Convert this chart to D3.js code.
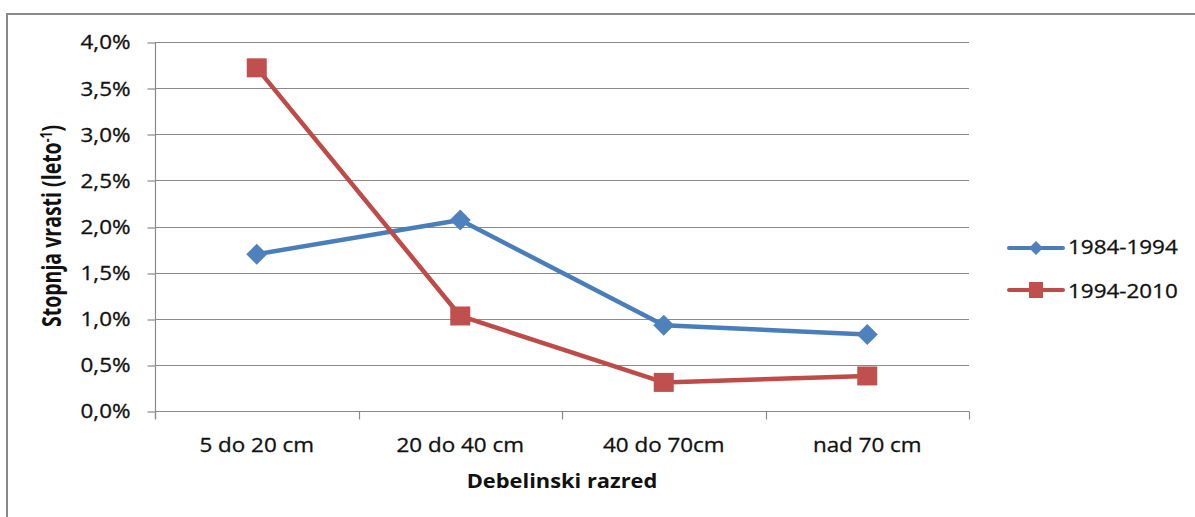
<!DOCTYPE html>
<html>
<head>
<meta charset="utf-8">
<script src="https://cdn.jsdelivr.net/npm/d3@7"></script>
<style>
  html, body { margin: 0; padding: 0; background: #ffffff; }
  svg { display: block; }
  text { font-family: "Open Sans", "Noto Sans", sans-serif; fill: #111; }
  .lbl { stroke: #111; stroke-width: 0.3px; }
</style>
</head>
<body>
<svg id="chart" width="1195" height="517"></svg>
<script>
// Diameter classes and annual ingrowth rates
const categories = ["5 do 20 cm", "20 do 40 cm", "40 do 70cm", "nad 70 cm"];
const seriesNames = ["1984-1994", "1994-2010"];
const rate1984_1994 = [0.0170, 0.0207, 0.0093, 0.0083];
const rate1994_2010 = [0.0372, 0.0103, 0.0031, 0.0038];
const yTickValues = [0, 0.005, 0.010, 0.015, 0.020, 0.025, 0.030, 0.035, 0.040];
const yTitle = "Stopnja vrasti (leto";
const yTitleSup = "-1";
const xTitle = "Debelinski razred";

const W = 1195, H = 517;
const plot = { left: 155, top: 42, right: 969, bottom: 411 };
const SX = 1.15;            // horizontal text stretch
const FS = 19.5;            // label font size

const colors = {
  blueLine: "#4a7ebb", blueMark: "#4f81bd",
  redLine: "#be4b48", redMark: "#c0504d",
  grid: "#8a8a8a", frame: "#8a8a8a"
};

const svg = d3.select("#chart");

// outer chart frame (runs past the right and bottom edge)
svg.append("rect")
  .attr("x", 7).attr("y", 14)
  .attr("width", W + 20).attr("height", H + 20)
  .attr("fill", "#fff").attr("stroke", colors.frame).attr("stroke-width", 2);

const x = d3.scaleBand().domain(categories).range([plot.left, plot.right]).paddingInner(0).paddingOuter(0);
const y = d3.scaleLinear().domain([0, 0.04]).range([plot.bottom, plot.top]);

const locale = d3.formatLocale({ decimal: ",", thousands: ".", grouping: [3], currency: ["", "€"] });
const pct = locale.format(".1%");

// horizontal gridlines
svg.append("g")
  .selectAll("line").data(yTickValues).join("line")
  .attr("x1", plot.left).attr("x2", plot.right)
  .attr("y1", d => Math.round(y(d)) + 0.5).attr("y2", d => Math.round(y(d)) + 0.5)
  .attr("stroke", colors.grid).attr("stroke-width", 1.2);

// y axis
const yAxis = svg.append("g")
  .attr("transform", `translate(${plot.left + 0.5},0)`)
  .call(d3.axisLeft(y).tickValues(yTickValues).tickFormat(pct).tickSize(8).tickSizeOuter(0));
yAxis.select(".domain").attr("stroke", colors.grid).attr("stroke-width", 1.2)
  .attr("d", `M0,${plot.top}V${plot.bottom + 8}`);
yAxis.selectAll(".tick line").attr("stroke", colors.grid).attr("stroke-width", 1.2)
  .attr("transform", d => `translate(0,${Math.round(y(d)) + 0.5 - y(d)})`);
yAxis.selectAll(".tick text")
  .attr("x", null).attr("dy", null)
  .attr("class", "lbl")
  .attr("transform", `translate(-25,${0.714 * FS / 2}) scale(${SX},1)`)
  .attr("text-anchor", "end")
  .style("font-family", '"Open Sans", sans-serif')
  .style("font-size", FS + "px").attr("fill", "#111");

// x axis: labels at category centres
const xAxis = svg.append("g")
  .attr("transform", `translate(0,${plot.bottom + 0.5})`)
  .call(d3.axisBottom(x).tickSize(0).tickSizeOuter(0));
xAxis.select(".domain").attr("stroke", colors.grid).attr("stroke-width", 1.2)
  .attr("d", `M${plot.left},0H${plot.right}`);
xAxis.selectAll(".tick text")
  .attr("y", null).attr("dy", null)
  .attr("class", "lbl")
  .attr("transform", `translate(0,40) scale(${SX},1)`)
  .attr("text-anchor", "middle")
  .style("font-family", '"Open Sans", sans-serif')
  .style("font-size", FS + "px").attr("fill", "#111");

// tick marks between categories
const boundaries = categories.map(c => x(c)).concat([x(categories[categories.length - 1]) + x.bandwidth()]);
xAxis.append("g").selectAll("line").data(boundaries).join("line")
  .attr("x1", d => Math.round(d) + 0.5).attr("x2", d => Math.round(d) + 0.5)
  .attr("y1", 0).attr("y2", 8)
  .attr("stroke", colors.grid).attr("stroke-width", 1.2);

// axis titles
svg.append("text")
  .attr("transform", `translate(${(plot.left + plot.right) / 2},488) scale(${SX},1)`)
  .attr("text-anchor", "middle")
  .style("font-size", "19px").style("font-weight", 700)
  .text(xTitle);

const yt = svg.append("text")
  .attr("transform", `translate(61,226) scale(1.35,1) rotate(-90)`)
  .attr("text-anchor", "middle")
  .style("font-size", "19.5px").style("font-weight", 700);
yt.append("tspan").text(yTitle);
yt.append("tspan").attr("dy", -7).style("font-size", "12px").text(yTitleSup);
yt.append("tspan").attr("dy", 7).text(")");

// series
const cx = c => x(c) + x.bandwidth() / 2;
const line = d3.line().x(d => cx(d.c)).y(d => y(d.v));
const s1 = categories.map((c, i) => ({ c, v: rate1984_1994[i] }));
const s2 = categories.map((c, i) => ({ c, v: rate1994_2010[i] }));

const diamond = (g, px, py, r, fill) =>
  g.append("path").attr("d", `M${px},${py - r}L${px + r},${py}L${px},${py + r}L${px - r},${py}Z`).attr("fill", fill);
const square = (g, px, py, w, h, fill) =>
  g.append("rect").attr("x", px - w / 2).attr("y", py - h / 2).attr("width", w).attr("height", h).attr("fill", fill);

const gS = svg.append("g");
gS.append("path").datum(s1).attr("d", line).attr("fill", "none")
  .attr("stroke", colors.blueLine).attr("stroke-width", 4.5).attr("stroke-linejoin", "round");
gS.append("path").datum(s2).attr("d", line).attr("fill", "none")
  .attr("stroke", colors.redLine).attr("stroke-width", 4.5).attr("stroke-linejoin", "round");
s1.forEach(d => diamond(gS, cx(d.c), y(d.v), 10.5, colors.blueMark));
s2.forEach(d => square(gS, cx(d.c), y(d.v), 20, 19, colors.redMark));

// legend
const legend = svg.append("g");
const legendItems = [
  { name: seriesNames[0], ly: 248, tb: 254, line: colors.blueLine, mark: colors.blueMark, kind: "diamond" },
  { name: seriesNames[1], ly: 290, tb: 298, line: colors.redLine, mark: colors.redMark, kind: "square" }
];
legendItems.forEach(it => {
  legend.append("line").attr("x1", 1009).attr("x2", 1063).attr("y1", it.ly).attr("y2", it.ly)
    .attr("stroke", it.line).attr("stroke-width", 4).attr("stroke-linecap", "round");
  if (it.kind === "diamond") diamond(legend, 1036, it.ly, 7, it.mark);
  else square(legend, 1036, it.ly, 14, 16, it.mark);
  legend.append("text")
    .attr("class", "lbl")
    .attr("transform", `translate(1068,${it.tb}) scale(${SX},1)`)
    .style("font-size", FS + "px")
    .text(it.name);
});
</script>
</body>
</html>
